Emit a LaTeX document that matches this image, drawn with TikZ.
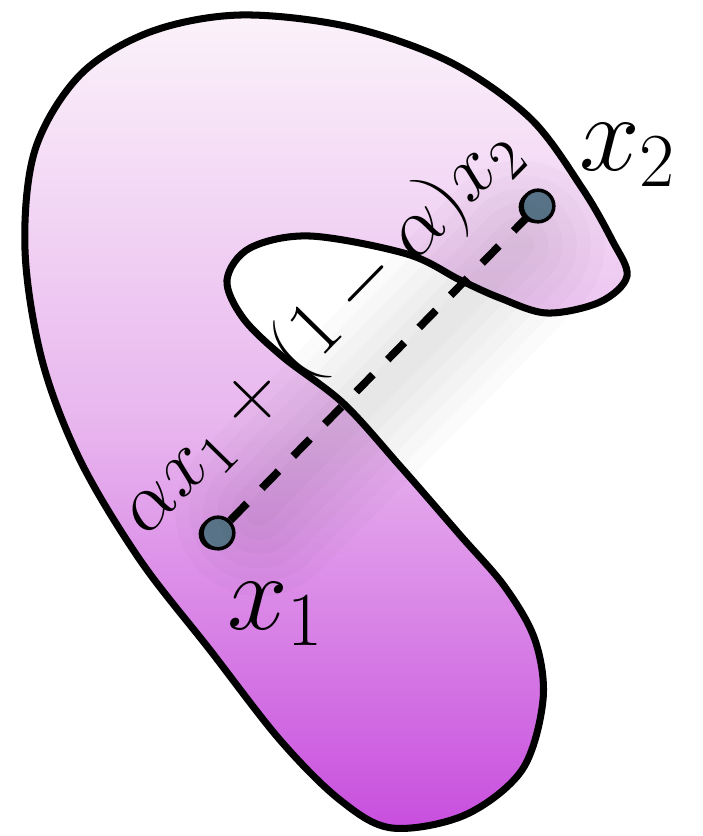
\documentclass[tikz,border=0pt]{standalone}
\usepackage{fix-cm}
\usetikzlibrary{positioning, shadows}
\definecolor{setTop}{HTML}{FBF2FA}
\definecolor{setMid}{HTML}{E8B6EE}
\definecolor{setBot}{HTML}{C84EDE}
\definecolor{ptFill}{HTML}{5E7890}

\begin{document}
\begin{tikzpicture}[x=0.01cm, y=-0.01cm,
    blob/.style={draw=black, line width=2pt, top color=setTop,
                 bottom color=setBot, middle color=setMid},
    pt/.style={circle, draw=black, line width=1pt, fill=ptFill,
               minimum size=9pt, inner sep=0pt,
               drop shadow={shadow xshift=-1pt, shadow yshift=-0.3pt,
                            fill=black, opacity=1}},
    seg/.style={line width=2.2pt, dash pattern=on 6.8pt off 6pt},
    haze/.style={line width=#1, black, opacity=0.016, line cap=round,
                 shorten <=12pt, shorten >=12pt},
    big/.style={font=\fontsize{31}{36}\selectfont, inner sep=0pt},
    mix/.style={font=\fontsize{23}{27}\selectfont, inner xsep=0pt,
                inner ysep=0.24cm},
]
\useasboundingbox (0,0) rectangle (703,836);
% non-convex set
\path[blob] plot[smooth cycle, tension=0.55] coordinates {
    (240,15) (350,27) (450,62) (530,118) (582,188) (612,240) (627,276)
    (600,302) (547,313) (500,298) (460,280) (407,254) (310,236) (250,248)
    (227,280) (243,318) (283,357) (343,403) (400,466) (460,535) (505,587)
    (535,640) (543,700) (522,770) (465,815) (392,828) (340,800) (280,740)
    (210,650) (140,560) (80,460) (42,360) (25,250) (35,150) (80,75)
    (150,32)};
% the two points
\node[pt] (x1) at (218,533) {};
\node[pt] (x2) at (538,206) {};
% soft shadow under the segment
\foreach \w in {8,16,...,48}
  \draw[haze=\w pt] ([shift={(12,9)}]x1.center) -- ([shift={(12,9)}]x2.center);
\draw[seg] (x1) -- node[mix, sloped, anchor=south, pos=0.47] (comb)
    {$\alpha x_1 + (1-\alpha)x_2$} (x2);
\node[big, above right=0.06cm and 0.28cm of x2] (lx2) {$x_2$};
\node[big, below right=0.36cm and -0.04cm of x1] (lx1) {$x_1$};
\end{tikzpicture}
\end{document}
